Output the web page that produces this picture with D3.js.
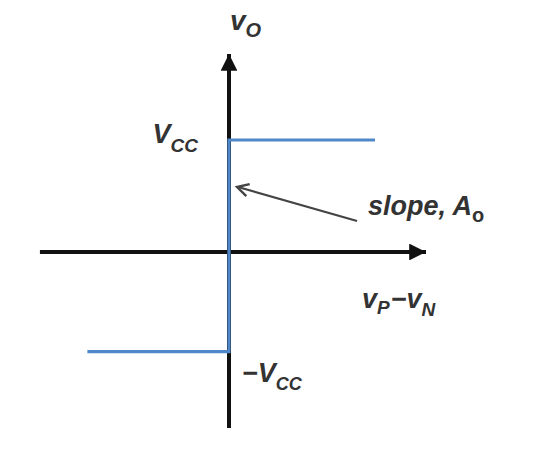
<!DOCTYPE html>
<html>
<head>
<meta charset="utf-8">
<script src="https://cdn.jsdelivr.net/npm/d3@7"></script>
<style>
  html, body { margin: 0; padding: 0; background: #fff; }
  svg { display: block; }
  text { font-family: "Liberation Sans", Arial, sans-serif; font-style: italic; font-weight: bold; fill: #333; }
</style>
</head>
<body>
<svg id="chart" width="541" height="460"></svg>
<script>
// ---- data (in normalized units: Vcc = 1 on output, saturation input = 1) ----
const xAxisExtent = [-1.295, 1.363];        // horizontal axis (vP - vN)
const yAxisExtent = [-1.571, 1.786];        // vertical axis (vO)
const transferX = [-0.97, 0, 0, 1.0];       // transfer characteristic: input
const transferY = [-0.89, -0.89, 1.0, 1.0]; // transfer characteristic: output
const slopeArrowX = [0.877, 0.055];         // annotation arrow: from text to curve
const slopeArrowY = [0.277, 0.58];
const labels = ["v", "O", "V", "CC", "\u2212V", "CC", "slope, A", "o", "v", "P", "\u2212v", "N"];

const svg = d3.select("#chart");
const x = d3.scaleLinear().domain([0, 1]).range([229, 375]);
const y = d3.scaleLinear().domain([0, 1]).range([252, 140]);

const defs = svg.append("defs");
defs.append("marker").attr("id", "axisHead")
  .attr("viewBox", "0 0 10 10").attr("refX", 10).attr("refY", 5)
  .attr("markerWidth", 4.2).attr("markerHeight", 4.2).attr("orient", "auto")
  .attr("markerUnits", "strokeWidth")
  .append("path").attr("d", "M0,0 L10,5 L0,10 Z").attr("fill", "#111");

// axes
svg.append("line")
  .attr("x1", x(xAxisExtent[0])).attr("x2", x(xAxisExtent[1]) - 2)
  .attr("y1", y(0)).attr("y2", y(0))
  .attr("stroke", "#111").attr("stroke-width", 4)
  .attr("marker-end", "url(#axisHead)");
svg.append("line")
  .attr("x1", x(0)).attr("x2", x(0))
  .attr("y1", y(yAxisExtent[0])).attr("y2", y(yAxisExtent[1]) + 2)
  .attr("stroke", "#111").attr("stroke-width", 4)
  .attr("marker-end", "url(#axisHead)");

// transfer characteristic
const pts = transferX.map((d, i) => [d, transferY[i]]);
svg.append("path")
  .datum(pts)
  .attr("d", d3.line().x(d => x(d[0])).y(d => y(d[1])))
  .attr("fill", "none").attr("stroke", "#5087c8").attr("stroke-width", 3.2)
  .attr("stroke-linejoin", "miter");

// slope annotation arrow (open chevron head at the curve)
const sx = x(slopeArrowX[0]), sy = y(slopeArrowY[0]);
const tx = x(slopeArrowX[1]), ty = y(slopeArrowY[1]);
svg.append("line")
  .attr("x1", sx).attr("y1", sy).attr("x2", tx + 1).attr("y2", ty)
  .attr("stroke", "#444").attr("stroke-width", 2.2);
const ang = Math.atan2(sy - ty, sx - tx);
const headLen = 13, spread = 0.5;
const arm = a => [tx + headLen * Math.cos(a), ty + headLen * Math.sin(a)];
const a1 = arm(ang - spread), a2 = arm(ang + spread);
svg.append("path")
  .attr("d", `M${a1[0]},${a1[1]} L${tx},${ty} L${a2[0]},${a2[1]}`)
  .attr("fill", "none").attr("stroke", "#444").attr("stroke-width", 2.4)
  .attr("stroke-linejoin", "miter");

// labels
function label(px, py, main, sub, size, subSize, anchor, subDy) {
  const t = svg.append("text").attr("x", px).attr("y", py)
    .attr("font-size", size).attr("text-anchor", anchor || "start");
  t.append("tspan").text(main);
  if (sub) t.append("tspan").attr("dy", subDy).attr("font-size", subSize).text(sub);
  return t;
}
// vO
label(x(0) + 1, 30, labels[0], labels[1], 28, 20, "start", 7);
// Vcc
label(x(0) - 31, y(1) + 3, labels[2], labels[3], 27, 19, "end", 9);
// -Vcc
label(x(0) + 13, y(-0.89) + 30, labels[4], labels[5], 27, 18, "start", 8);
// vP - vN
const t = svg.append("text").attr("x", x(0) + 133).attr("y", 308).attr("font-size", 27);
t.append("tspan").text(labels[8]);
t.append("tspan").attr("dy", 6).attr("font-size", 19).text(labels[9]);
t.append("tspan").attr("dy", -6).attr("dx", 1).text(labels[10]);
t.append("tspan").attr("dy", 8).attr("font-size", 19).text(labels[11]);
// slope, Ao
const s = svg.append("text").attr("x", x(0) + 139).attr("y", 215).attr("font-size", 27);
s.append("tspan").text(labels[6]);
s.append("tspan").attr("dy", 7).attr("font-size", 20)
  .style("font-style", "normal").text(labels[7]);
</script>
</body>
</html>
